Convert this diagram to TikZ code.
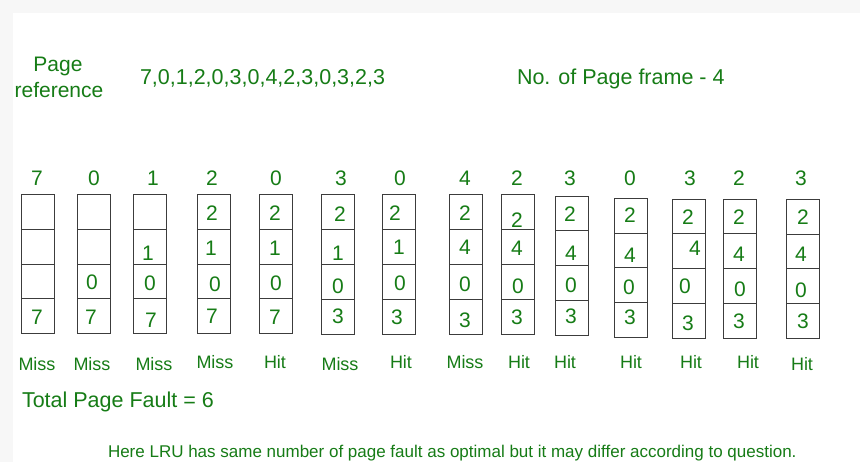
\documentclass[tikz,border=0pt]{standalone}
\usepackage{fontspec}
\setmainfont{Liberation Sans}
\definecolor{gfg}{RGB}{22,124,22}
\definecolor{edge}{RGB}{60,60,60}
\begin{document}
\begin{tikzpicture}[x=1pt,y=-1pt,
  txt/.style={text=gfg, inner sep=0pt, outer sep=0pt},
  big/.style={txt, font=\fontsize{21.5}{24}\selectfont},
  val/.style={txt, font=\fontsize{21}{23}\selectfont},
  res/.style={txt, font=\fontsize{18}{20}\selectfont},
  cell/.style={draw=edge, line width=0.9pt, minimum width=33.5pt, inner sep=0pt, outer sep=0pt}]
\useasboundingbox (0,0) rectangle (860,462);
\fill[black!3] (0,0) rectangle (860,462);
\fill[white] (13,13) rectangle (860,462);

% header
\node[txt, font=\fontsize{21}{24}\selectfont, anchor=base] (pg) at (58,72) {Page};
\node[txt, font=\fontsize{21}{24}\selectfont, anchor=base] (pref) at (59,98) {reference};
\node[big, anchor=base west] (seq) at (140,85) {7,0,1,2,0,3,0,4,2,3,0,3,2,3};
\node[big, anchor=base west] (frames) at (517,85) {No. of Page frame - 4};

% frame columns
\foreach \i/\x/\t/\b in {1/21/194.3/333.7, 2/77/194.3/333.7, 3/133/194.3/333.7, 4/197/194.3/333.7,
  5/259/194.3/333.7, 6/321/194.3/334, 7/382/194.3/334, 8/449/194.3/334, 9/501/194.3/334,
  10/555/196/335, 11/614/198.3/337.3, 12/672/199/338.3, 13/723/199/338.3, 14/786/199.3/338.3}{
  \pgfmathsetmacro\h{(\b-\t)/4}
  \foreach \r in {1,...,4}{
    \node[cell, minimum height=\h pt] (c\i-\r) at ({\x+16.75},{\t+(\r-0.5)*\h}) {};
  }
}

% reference labels above columns
\foreach \x/\v [count=\k] in {37/7,94/0,153/1,212/2,276/0,341/3,400/0,465/4,517/2,570/3,630/0,690/3,739/2,801/3}{
  \node[val] (ref\k) at (\x,178) {\v};
}

% values in frames
\foreach \x/\y/\v [count=\k] in {37/317/7,
  92/282/0, 91/317/7,
  148/253/1, 150/283/0, 151/320/7,
  212/213/2, 211/248/1, 215/284/0, 212/316/7,
  275/213/2, 275/248/1, 276/283/0, 275/317/7,
  340/214/2, 338/253/1, 338/286/0, 338/316/3,
  395/213/2, 399/247/1, 400/283/0, 397/317/3,
  465/213/2, 465/247/4, 465/284/0, 465/320/3,
  517/220/2, 517/248/4, 518/286/0, 517/317/3,
  570/214/2, 571/253/4, 571/285/0, 571/316/3,
  630/215/2, 630/255/4, 629/287/0, 630/317/3,
  688/217/2, 695/248/4, 685/286/0, 688/323/3,
  739/217/2, 739/254/4, 740/289/0, 739/321/3,
  803/217/2, 801/254/4, 801/290/0, 803/321/3}{
  \node[val] (v\k) at (\x,\y) {\v};
}

% hit / miss
\foreach \x/\y/\s [count=\k] in {37/364/Miss, 92/364/Miss, 154/364/Miss, 215/362/Miss, 275/362/Hit,
  340/364/Miss, 401/362/Hit, 465/362/Miss, 519/362/Hit, 565/362/Hit,
  631/362/Hit, 691/362/Hit, 748/362/Hit, 802/364/Hit}{
  \node[res] (r\k) at (\x,\y) {\s};
}

\node[big, anchor=base west] (total) at (22,407) {Total Page Fault = 6};
\node[txt, font=\fontsize{17}{19}\selectfont, anchor=base west] (note) at (108,457)
  {Here LRU has same number of page fault as optimal but it may differ according to question.};
\end{tikzpicture}
\end{document}
